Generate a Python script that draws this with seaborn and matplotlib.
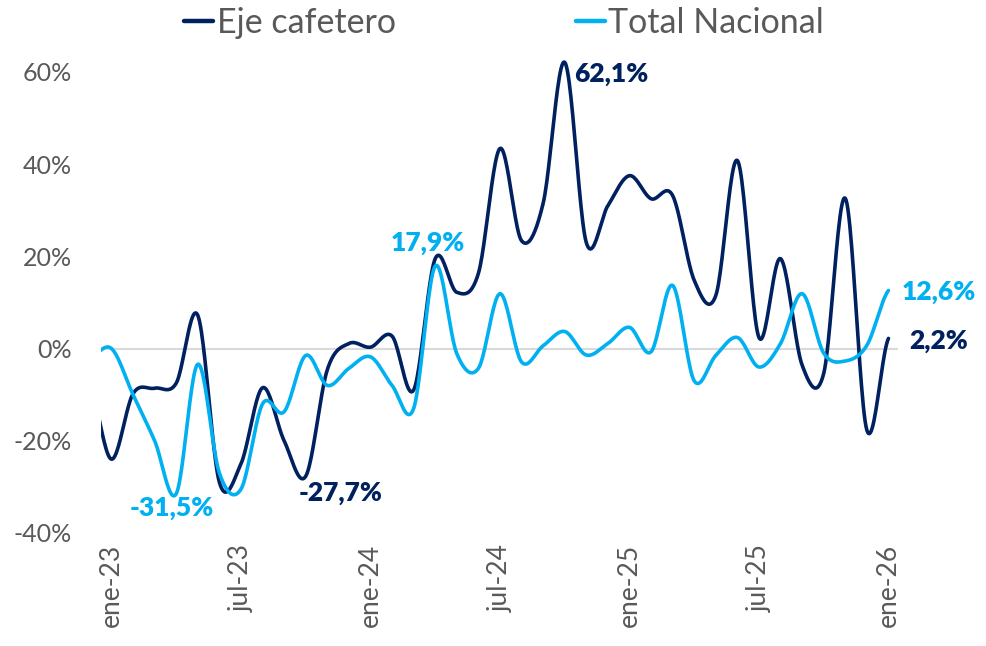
import matplotlib
matplotlib.use("Agg")
import matplotlib.pyplot as plt
import seaborn as sns
import numpy as np
import pandas as pd

# monthly series, dic-22 .. ene-26 (first point sits just outside the axis)
months = ['dic-22', 'ene-23', 'feb-23', 'mar-23', 'abr-23', 'may-23', 'jun-23', 'jul-23', 'ago-23',
          'sep-23', 'oct-23', 'nov-23', 'dic-23', 'ene-24', 'feb-24', 'mar-24', 'abr-24', 'may-24',
          'jun-24', 'jul-24', 'ago-24', 'sep-24', 'oct-24', 'nov-24', 'dic-24', 'ene-25', 'feb-25',
          'mar-25', 'abr-25', 'may-25', 'jun-25', 'jul-25', 'ago-25', 'sep-25', 'oct-25', 'nov-25',
          'dic-25', 'ene-26']
eje_cafetero = [-8, -24, -9.8, -8.6, -7.5, 7.2, -29, -25, -8.5, -20, -27.7, -4.6, 1.1, 0.3, 2.7,
                -9, 19.5, 12.2, 16.3, 43.4, 23.4, 31.5, 62.1, 23, 31, 37.5, 32.5, 33.2, 14.8, 11.5,
                40.8, 2.4, 19.5, -3.6, -5.4, 32.6, -17.7, 2.2]
total_nacional = [-2, 0, -10, -20, -31.5, -3.4, -27, -30.5, -12, -13.7, -1.5, -8, -4.3, -1.8, -8,
                  -13, 17.9, -1.1, -4.3, 11.9, -2.9, 0.6, 3.7, -1.4, 1.1, 4.6, -0.7, 13.7, -7, -1.5,
                  2.4, -4, 1.1, 11.9, -1, -2.7, 0.7, 12.6]
tick_labels = ['ene-23', 'jul-23', 'ene-24', 'jul-24', 'ene-25', 'jul-25', 'ene-26']

DARK = '#002060'
LIGHT = '#00B0F0'
GREY = '#595959'


def smooth(y, n=24):
    # uniform Catmull-Rom, similar to Excel's smoothed line
    y = np.asarray(y, dtype=float)
    p = np.concatenate([[y[0]], y, [y[-1]]])
    xs, ys = [], []
    t = np.linspace(0, 1, n, endpoint=False)
    for i in range(len(y) - 1):
        p0, p1, p2, p3 = p[i], p[i + 1], p[i + 2], p[i + 3]
        seg = 0.5 * (2 * p1 + (-p0 + p2) * t + (2 * p0 - 5 * p1 + 4 * p2 - p3) * t ** 2
                     + (-p0 + 3 * p1 - 3 * p2 + p3) * t ** 3)
        xs.append(i - 1 + t)
        ys.append(seg)
    xs.append([len(y) - 2])
    ys.append([y[-1]])
    return np.concatenate(xs), np.concatenate(ys)


frames = []
for name, vals in [('Eje cafetero', eje_cafetero), ('Total Nacional', total_nacional)]:
    sx, sy = smooth(vals)
    frames.append(pd.DataFrame({'x': sx, 'y': sy, 'serie': name}))
df = pd.concat(frames, ignore_index=True)

sns.set_style('white')
plt.rcParams['font.family'] = ['Lato', 'DejaVu Sans']

fig = plt.figure(figsize=(9.87, 6.46), dpi=100)
ax = fig.add_axes([0.102, 0.175, 0.808, 0.735])

ax.axhline(0, color='#D9D9D9', lw=1.5, zorder=1)
sns.lineplot(data=df, x='x', y='y', hue='serie', palette={'Eje cafetero': DARK, 'Total Nacional': LIGHT},
             lw=2.6, ax=ax, legend=False, sort=False, zorder=3)

ax.set_xlim(-0.5, 36.45)
ax.set_ylim(-40, 63)
ax.set_yticks([-40, -20, 0, 20, 40, 60])
ax.set_yticklabels([f'{v}%' for v in [-40, -20, 0, 20, 40, 60]], color=GREY, fontsize=18)
ax.set_xticks([0, 6, 12, 18, 24, 30, 36])
ax.set_xticklabels(tick_labels, rotation=90, color=GREY, fontsize=19)
ax.tick_params(axis='y', length=0, pad=21)
ax.tick_params(axis='x', length=0, pad=8)
ax.set_xlabel('')
ax.set_ylabel('')
for s in ax.spines.values():
    s.set_visible(False)

lab = dict(fontsize=19, fontweight='heavy')
ax.text(21.45, 59.6, '62,1%', color=DARK, ha='left', va='center', **lab)
ax.text(10.6, -31.3, '-27,7%', color=DARK, ha='center', va='center', **lab)
ax.text(2.8, -34.6, '-31,5%', color=LIGHT, ha='center', va='center', **lab)
ax.text(14.65, 22.8, '17,9%', color=LIGHT, ha='center', va='center', **lab)
ax.text(36.6, 12.2, '12,6%', color=LIGHT, ha='left', va='center', clip_on=False, **lab)
ax.text(36.95, 1.6, '2,2%', color=DARK, ha='left', va='center', clip_on=False, **lab)

handles = [plt.Line2D([], [], color=DARK, lw=3.2), plt.Line2D([], [], color=LIGHT, lw=3.2)]
fig.legend(handles, ['Eje cafetero', 'Total Nacional'], loc='upper center', bbox_to_anchor=(0.511, 1.036),
           ncol=2, frameon=False, fontsize=24.5, handlelength=0.85, handletextpad=0.1, columnspacing=5.3,
           labelcolor=GREY)

fig.savefig('out.png', dpi=100)
